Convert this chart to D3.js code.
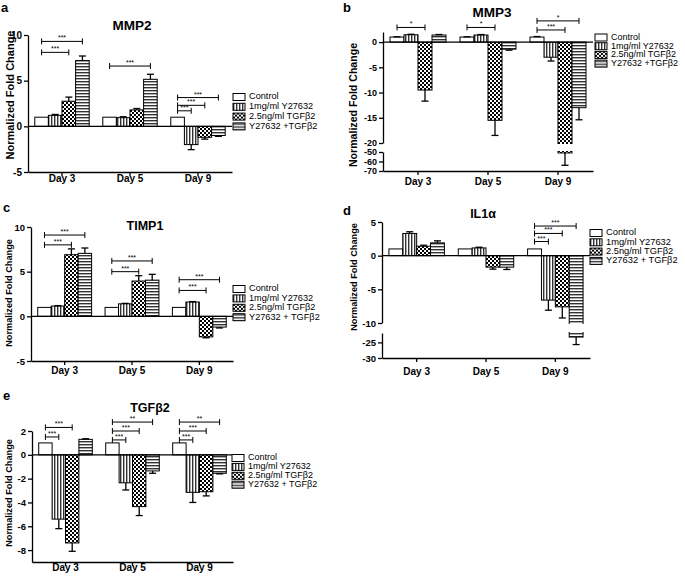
<!DOCTYPE html>
<html>
<head>
<meta charset="utf-8">
<script src="https://cdnjs.cloudflare.com/ajax/libs/d3/7.8.5/d3.min.js"></script>
<style>
body { margin: 0; background: #fff; }
svg { display: block; font-family: "Liberation Sans", Arial, sans-serif; }
</style>
</head>
<body>
<div id="chart"></div>
<script>
// categories
const days = ["Day 3", "Day 5", "Day 9"];
const treatments = ["Control", "1mg/ml Y27632", "2.5ng/ml TGFβ2", "Y27632 +TGFβ2"];
const treatmentsSpaced = ["Control", "1mg/ml Y27632", "2.5ng/ml TGFβ2", "Y27632 + TGFβ2"];

// each row = one day, columns = Control, Y27632, TGFb2, Y27632+TGFb2
const mmp2Mean = [[1, 1.2, 2.75, 7.2], [1, 0.95, 1.8, 5.15], [1, -2.0, -1.2, -1.0]];
const mmp2Sem = [[0, 0.1, 0.45, 0.5], [0, 0.1, 0.15, 0.55], [0, 0.55, 0.2, 0.1]];
const mmp3Mean = [[1, 1.45, -9.5, 1.4], [1, 1.4, -15.5, -1.4], [1, -3.0, -51, -13.0]];
const mmp3Sem = [[0.05, 0.1, 2.2, 0.1], [0.05, 0.1, 3.0, 0.2], [0.1, 0.75, 13, 2.4]];
const timp1Mean = [[1, 1.15, 6.9, 7.05], [1, 1.4, 3.95, 4.05], [1, 1.6, -2.3, -1.2]];
const timp1Sem = [[0, 0.05, 0.65, 0.6], [0, 0.05, 0.6, 0.65], [0, 0.05, 0.1, 0.1]];
const il1aMean = [[1, 3.3, 1.4, 1.9], [1, 1.15, -1.7, -1.7], [1, -6.6, -7.6, -23.3]];
const il1aSem = [[0, 0.25, 0.15, 0.3], [0, 0.1, 0.3, 0.35], [0, 1.5, 1.65, 2.4]];
const tgfb2Mean = [[1, -5.4, -7.4, 1.3], [1, -2.35, -4.35, -1.35], [1, -3.15, -3.1, -1.55]];
const tgfb2Sem = [[0, 0.8, 0.7, 0.05], [0, 0.6, 0.75, 0.2], [0, 0.85, 0.35, 0.05]];

// significance brackets: [day, from, to, height, label]
const mmp2Sig = [[0, 0, 3, 9.3, "***"], [0, 0, 2, 8.1, "***"], [1, 0, 3, 6.6, "***"],
    [2, 0, 3, 3.15, "***"], [2, 0, 2, 2.3, "***"], [2, 0, 1, 1.7, "***"]];
const mmp3Sig = [[0, 0, 2, 2.9, "*"], [1, 0, 2, 2.9, "*"], [2, 0, 3, 4.2, "*"], [2, 0, 2, 2.4, "***"]];
const timp1Sig = [[0, 0, 3, 9.1, "***"], [0, 0, 2, 8.0, "***"], [1, 0, 3, 6.2, "***"],
    [1, 0, 2, 5.0, "***"], [2, 0, 3, 4.1, "***"], [2, 0, 2, 2.9, "***"]];
const il1aSig = [[2, 0, 3, 4.4, "***"], [2, 0, 2, 3.3, "***"], [2, 0, 1, 2.1, "***"]];
const tgfb2Sig = [[0, 0, 2, 2.3, "***"], [0, 0, 1, 1.5, "***"],
    [1, 0, 3, 2.75, "**"], [1, 0, 2, 2.0, "***"], [1, 0, 1, 1.25, "***"],
    [2, 0, 3, 2.75, "**"], [2, 0, 2, 2.0, "***"], [2, 0, 1, 1.25, "***"]];

// y ticks
const ticksA = [10, 5, 0, -5];
const ticksBUp = [0, -5, -10, -15, -20];
const ticksBLow = [-50, -60, -70];
const ticksC = [10, 5, 0, -5];
const ticksDUp = [5, 0, -5, -10];
const ticksDLow = [-25, -30];
const ticksE = [2, 0, -2, -4, -6, -8];

const svg = d3.select("#chart").append("svg")
    .attr("width", 685)
    .attr("height", 576);

svg.append("rect").attr("width", 685).attr("height", 576).attr("fill", "#fff");

// fill patterns
const defs = svg.append("defs");
const pv = defs.append("pattern").attr("id", "vstripe").attr("patternUnits", "userSpaceOnUse")
    .attr("width", 3).attr("height", 3);
pv.append("rect").attr("width", 3).attr("height", 3).attr("fill", "#fff");
pv.append("rect").attr("width", 1.4).attr("height", 3).attr("fill", "#333");

const ph = defs.append("pattern").attr("id", "hstripe").attr("patternUnits", "userSpaceOnUse")
    .attr("width", 3).attr("height", 3);
ph.append("rect").attr("width", 3).attr("height", 3).attr("fill", "#fff");
ph.append("rect").attr("width", 3).attr("height", 1.4).attr("fill", "#333");

const pc = defs.append("pattern").attr("id", "checker").attr("patternUnits", "userSpaceOnUse")
    .attr("width", 4).attr("height", 4);
pc.append("rect").attr("width", 4).attr("height", 4).attr("fill", "#fff");
pc.append("rect").attr("width", 2).attr("height", 2).attr("fill", "#000");
pc.append("rect").attr("x", 2).attr("y", 2).attr("width", 2).attr("height", 2).attr("fill", "#000");

const fills = ["#fff", "url(#vstripe)", "url(#checker)", "url(#hstripe)"];

function styleAxis(ax, size) {
    ax.selectAll("path, line").attr("stroke", "#000").attr("stroke-width", 1.3);
    ax.selectAll("text").attr("fill", "#000").attr("font-weight", "bold")
        .attr("font-size", size).attr("font-family", "Liberation Sans, Arial, sans-serif");
}

function drawPanel(c) {
    const g = svg.append("g");

    const x0 = d3.scaleBand().domain(days).range([c.x0, c.x1]).paddingInner(0.2).paddingOuter(0.1);
    const x1 = d3.scaleBand().domain(d3.range(4)).range([0, x0.bandwidth()]);
    const y = d3.scaleLinear().domain(c.yDomain).range(c.yRange);
    const bw = x1.bandwidth();
    const cx = (d, j) => x0(days[d]) + x1(j) + bw / 2;

    const bars = c.mean.flatMap((row, i) => row.map((v, j) => ({ i, j, v, s: c.sem[i][j] })));

    // bars
    g.append("g").selectAll("rect")
        .data(bars)
        .enter().append("rect")
        .attr("x", d => x0(days[d.i]) + x1(d.j))
        .attr("y", d => Math.min(y(0), y(d.v)))
        .attr("width", bw)
        .attr("height", d => Math.abs(y(d.v) - y(0)))
        .attr("fill", d => fills[d.j])
        .attr("stroke", "#000")
        .attr("stroke-width", 1);

    // error bars (one sided)
    const errs = bars.filter(d => d.s > 0);
    const eEnd = d => d.v >= 0 ? d.v + d.s : d.v - d.s;
    g.append("g").selectAll("line")
        .data(errs)
        .enter().append("line")
        .attr("x1", d => cx(d.i, d.j)).attr("x2", d => cx(d.i, d.j))
        .attr("y1", d => y(d.v)).attr("y2", d => y(eEnd(d)))
        .attr("stroke", "#000").attr("stroke-width", 1.3);
    g.append("g").selectAll("line")
        .data(errs)
        .enter().append("line")
        .attr("x1", d => cx(d.i, d.j) - 3.5).attr("x2", d => cx(d.i, d.j) + 3.5)
        .attr("y1", d => y(eEnd(d))).attr("y2", d => y(eEnd(d)))
        .attr("stroke", "#000").attr("stroke-width", 1.3);

    // gap for broken axis
    if (c.gap) {
        g.append("rect")
            .attr("x", c.x0 - 8).attr("y", c.gap[0])
            .attr("width", c.x1 - c.x0 + 10).attr("height", c.gap[1] - c.gap[0])
            .attr("fill", "#fff");
    }

    // zero line
    g.append("line")
        .attr("x1", c.x0).attr("x2", c.x1)
        .attr("y1", y(0)).attr("y2", y(0))
        .attr("stroke", "#000").attr("stroke-width", 1.3);

    // y axis segments
    c.yAxes.forEach(seg => {
        const ys = d3.scaleLinear().domain(seg.domain).range(seg.domain.map(y));
        const ax = g.append("g")
            .attr("transform", `translate(${c.x0},0)`)
            .call(d3.axisLeft(ys).tickValues(seg.ticks).tickSize(4).tickSizeOuter(0)
                .tickPadding(2).tickFormat(d => String(d)));
        styleAxis(ax, c.tickFont);
    });

    // x axis
    const yb = y(c.yDomain[c.yDomain.length - 1]);
    const xa = g.append("g")
        .attr("transform", `translate(0,${yb})`)
        .call(d3.axisBottom(x0).tickSize(4).tickSizeOuter(0).tickPadding(c.dayPad - 4));
    styleAxis(xa, c.dayFont);

    // significance brackets
    const sig = g.append("g").selectAll("g")
        .data(c.sig)
        .enter().append("g");
    sig.append("line")
        .attr("x1", d => cx(d[0], d[1])).attr("x2", d => cx(d[0], d[2]))
        .attr("y1", d => y(d[3])).attr("y2", d => y(d[3]))
        .attr("stroke", "#000").attr("stroke-width", 1);
    sig.append("line")
        .attr("x1", d => cx(d[0], d[1])).attr("x2", d => cx(d[0], d[1]))
        .attr("y1", d => y(d[3]) - 3).attr("y2", d => y(d[3]) + 3)
        .attr("stroke", "#000").attr("stroke-width", 1);
    sig.append("line")
        .attr("x1", d => cx(d[0], d[2])).attr("x2", d => cx(d[0], d[2]))
        .attr("y1", d => y(d[3]) - 3).attr("y2", d => y(d[3]) + 3)
        .attr("stroke", "#000").attr("stroke-width", 1);
    sig.append("text")
        .attr("x", d => (cx(d[0], d[1]) + cx(d[0], d[2])) / 2)
        .attr("y", d => y(d[3]) - 1)
        .attr("text-anchor", "middle")
        .attr("font-size", 7)
        .text(d => d[4]);

    // title, panel letter, y label
    g.append("text").attr("x", c.title[1]).attr("y", c.title[2])
        .attr("text-anchor", "middle").attr("font-weight", "bold").attr("font-size", c.titleFont)
        .text(c.title[0]);
    g.append("text").attr("x", c.letter[1]).attr("y", c.letter[2])
        .attr("font-weight", "bold").attr("font-size", 13)
        .text(c.letter[0]);
    g.append("text")
        .attr("transform", `translate(${c.ylab[0]},${c.ylab[1]}) rotate(-90)`)
        .attr("text-anchor", "middle").attr("dominant-baseline", "middle")
        .attr("font-weight", "bold").attr("font-size", c.ylab[2])
        .text("Normalized Fold Change");

    // legend
    const lg = g.append("g").attr("transform", `translate(${c.legend[0]},${c.legend[1]})`);
    const row = lg.selectAll("g")
        .data(c.labels)
        .enter().append("g")
        .attr("transform", (d, i) => `translate(0,${i * c.legend[2]})`);
    row.append("rect")
        .attr("x", 0).attr("y", -3.5).attr("width", 12).attr("height", 7)
        .attr("fill", (d, i) => fills[i]).attr("stroke", "#000").attr("stroke-width", 1);
    row.append("text")
        .attr("x", 16).attr("y", 0).attr("dominant-baseline", "middle")
        .attr("font-size", c.legend[3])
        .text(d => d);
}

drawPanel({
    x0: 28, x1: 232, yDomain: [10, -5], yRange: [35, 172],
    yAxes: [{ domain: [10, -5], ticks: ticksA }],
    mean: mmp2Mean, sem: mmp2Sem, sig: mmp2Sig,
    title: ["MMP2", 132, 30], titleFont: 13.5, letter: ["a", 1, 12],
    ylab: [11, 95, 11], tickFont: 10, dayFont: 10, dayPad: 3,
    legend: [233, 97, 9.8, 9.2], labels: treatments
});

drawPanel({
    x0: 383, x1: 593, yDomain: [2, -20, -50, -70], yRange: [32, 143, 152, 171],
    yAxes: [{ domain: [2, -20], ticks: ticksBUp }, { domain: [-50, -70], ticks: ticksBLow }],
    gap: [144, 151],
    mean: mmp3Mean, sem: mmp3Sem, sig: mmp3Sig,
    title: ["MMP3", 492, 16.5], titleFont: 13.5, letter: ["b", 343, 12],
    ylab: [354, 105, 10.6], tickFont: 9, dayFont: 10, dayPad: 7,
    legend: [595, 37.5, 8.7, 9], labels: treatments
});

drawPanel({
    x0: 31, x1: 233, yDomain: [10, -5], yRange: [227, 361],
    yAxes: [{ domain: [10, -5], ticks: ticksC }],
    mean: timp1Mean, sem: timp1Sem, sig: timp1Sig,
    title: ["TIMP1", 145, 230], titleFont: 12.5, letter: ["c", 3, 212],
    ylab: [10, 293, 9.2], tickFont: 9.5, dayFont: 10, dayPad: 6,
    legend: [233, 289, 9.4, 9.2], labels: treatmentsSpaced
});

drawPanel({
    x0: 382, x1: 590, yDomain: [5, -10, -22, -30], yRange: [222, 323, 333, 358],
    yAxes: [{ domain: [5, -10], ticks: ticksDUp }, { domain: [-22, -30], ticks: ticksDLow }],
    gap: [324, 332],
    mean: il1aMean, sem: il1aSem, sig: il1aSig,
    title: ["IL1α", 483, 218], titleFont: 12.5, letter: ["d", 343, 215],
    ylab: [355, 277, 9.2], tickFont: 9.5, dayFont: 10, dayPad: 10,
    legend: [590, 233, 9.3, 9.3], labels: treatmentsSpaced
});

drawPanel({
    x0: 32, x1: 233, yDomain: [2, -9], yRange: [431, 562],
    yAxes: [{ domain: [2, -9], ticks: ticksE }],
    mean: tgfb2Mean, sem: tgfb2Sem, sig: tgfb2Sig,
    title: ["TGFβ2", 150, 412], titleFont: 12.5, letter: ["e", 3, 400],
    ylab: [10, 493, 9.2], tickFont: 9.5, dayFont: 10, dayPad: 2,
    legend: [232, 458, 8.9, 9], labels: treatmentsSpaced
});
</script>
</body>
</html>
